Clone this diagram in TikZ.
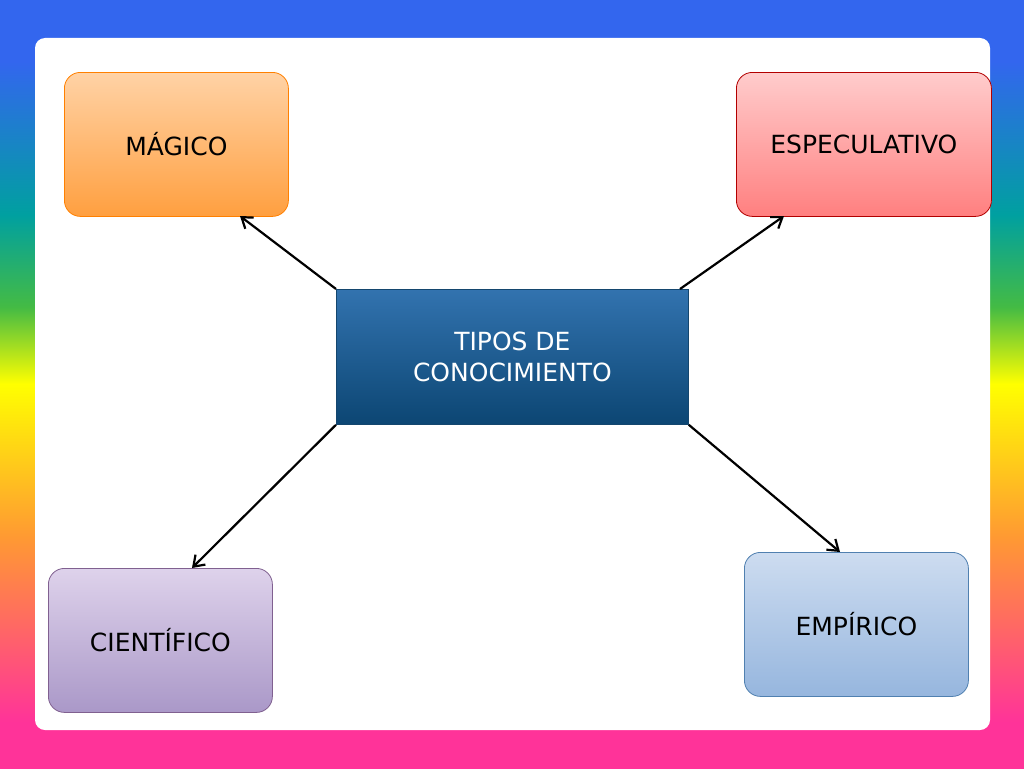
\documentclass[tikz,border=0pt]{standalone}
\usepackage{fontspec}
\setmainfont{DejaVu Sans}
\usetikzlibrary{arrows.meta}
\definecolor{rb1}{HTML}{3366EE}
\definecolor{rb2}{HTML}{00A0A0}
\definecolor{rb3}{HTML}{44BB44}
\definecolor{rb4}{HTML}{FFFF00}
\definecolor{rb5}{HTML}{FF9933}
\definecolor{rb6}{HTML}{FF3399}
\pgfdeclareverticalshading{rainbow}{100bp}{color(0bp)=(rb6);color(28bp)=(rb6);color(40bp)=(rb5);color(50bp)=(rb4);color(55bp)=(rb3);color(61bp)=(rb2);color(71bp)=(rb1);color(100bp)=(rb1)}
\tikzset{
 box/.style={rounded corners=16pt, minimum width=224pt, minimum height=144pt, font=\fontsize{25}{31}\selectfont, align=center, line width=0.8pt, anchor=north west},
 arr/.style={-{Straight Barb[length=10pt,width=14pt]}, line width=2.2pt, black}
}
\begin{document}
\begin{tikzpicture}[x=1pt,y=-1pt]
\useasboundingbox (0,0) rectangle (1024,768);
\shade[shading=rainbow] (0,0) rectangle (1024,768);
\fill[white, rounded corners=10pt] (35,38) rectangle (990,730);
\node[box, top color=orange!35, bottom color=orange!75, draw=orange] (m) at (64,72) {MÁGICO};
\node[box, minimum width=255pt, top color=red!20, bottom color=red!50, draw=red!70!black] (e) at (736,72) {ESPECULATIVO};
\node[box, rounded corners=0pt, minimum width=352pt, minimum height=135pt, top color={rgb,255:red,50;green,115;blue,175}, bottom color={rgb,255:red,12;green,70;blue,115}, text=white, draw={rgb,255:red,20;green,70;blue,110}] (t) at (336,289) {TIPOS DE\\CONOCIMIENTO};
\node[box, top color={rgb,255:red,222;green,210;blue,235}, bottom color={rgb,255:red,170;green,152;blue,200}, draw={rgb,255:red,128;green,96;blue,144}] (c) at (48,568) {CIENTÍFICO};
\node[box, top color={rgb,255:red,205;green,220;blue,240}, bottom color={rgb,255:red,150;green,182;blue,222}, draw={rgb,255:red,80;green,128;blue,176}] (p) at (744,552) {EMPÍRICO};
\coordinate (ma) at (240,216);
\coordinate (ea) at (784,216);
\coordinate (ca) at (192,568);
\coordinate (pa) at (840,552);
\coordinate (tne) at (680,289);
\draw[arr] (t.north west) -- (ma);
\draw[arr] (tne) -- (ea);
\draw[arr] (t.south west) -- (ca);
\draw[arr] (t.south east) -- (pa);
\end{tikzpicture}
\end{document}
